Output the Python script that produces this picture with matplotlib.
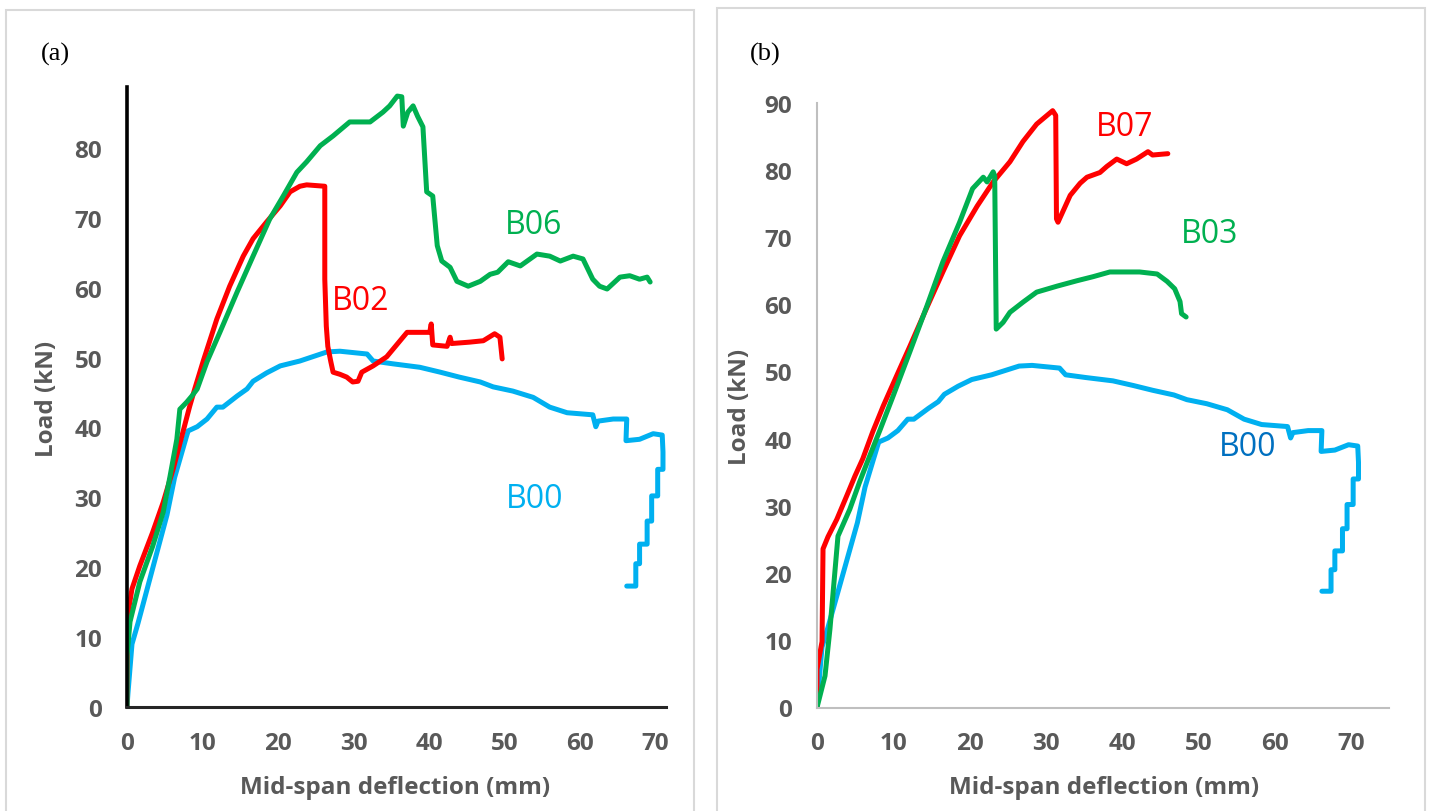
import matplotlib
matplotlib.use("Agg")
import matplotlib.pyplot as plt
from matplotlib.patches import Rectangle

# B00 (reference beam, shown in both panels)
b00_defl = [0, 0.13, 0.66, 1.46, 3.44, 5.3, 6.3, 7.9, 8.1, 9.3, 10.6, 11.9, 12.7, 14.6, 15.9, 16.7,
            18.5, 20.3, 22.9, 26.5, 28.2, 31.8, 32.6, 35.2, 38.8, 41.5, 44.0, 46.8, 48.5, 51.1, 53.8,
            56.0, 58.3, 61.7, 62.1, 62.4, 64.4, 66.2, 66.1, 67.9, 69.7, 70.9, 71.0, 71.0, 70.3, 70.3,
            69.5, 69.5, 68.9, 68.9, 67.9, 67.9, 67.4, 67.4, 66.2]
b00_load = [0, 2.0, 9.0, 12.0, 20.0, 27.5, 32.8, 38.8, 39.5, 40.1, 41.2, 42.9, 42.9, 44.5, 45.5, 46.6,
            47.8, 48.8, 49.5, 50.8, 50.9, 50.5, 49.5, 49.1, 48.6, 47.9, 47.2, 46.5, 45.8, 45.2, 44.3,
            42.9, 42.1, 41.8, 40.1, 40.9, 41.2, 41.2, 38.1, 38.3, 39.1, 38.9, 36.5, 34.0, 34.0, 30.2,
            30.2, 26.6, 26.6, 23.3, 23.3, 20.5, 20.5, 17.3, 17.3]

# panel (a)
b02_defl = [0, 0.05, 0.3, 0.66, 1.7, 3.4, 4.8, 6.1, 7.4, 8.3, 9.0, 10.1, 11.9, 13.6, 15.4, 16.7,
            18.5, 20.3, 21.6, 22.9, 23.8, 26.2, 26.2, 26.4, 26.6, 27.0, 27.3, 28.2, 29.1, 29.9, 30.6,
            31.1, 32.6, 34.4, 37.1, 40.1, 40.3, 40.5, 42.4, 42.8, 43.0, 45.4, 47.2, 48.7, 49.4, 49.7]
b02_load = [0, 11.2, 14.5, 16.9, 20.2, 25.0, 29.3, 34.0, 39.3, 43.0, 45.6, 49.5, 55.5, 60.2, 64.5, 67.0,
            69.4, 71.7, 73.7, 74.5, 74.7, 74.5, 61.2, 54.5, 51.6, 49.4, 47.9, 47.6, 47.2, 46.5, 46.6,
            47.9, 48.8, 50.1, 53.6, 53.6, 54.8, 51.8, 51.6, 52.9, 52.0, 52.2, 52.4, 53.4, 52.9, 49.8]

b06_defl = [0, 0, 0.4, 1.7, 3.4, 4.8, 5.7, 6.6, 7.0, 7.9, 8.6, 9.3, 10.6, 12.3, 14.6, 16.7, 18.9,
            20.7, 22.5, 23.8, 25.6, 27.3, 29.5, 32.2, 33.9, 34.8, 35.8, 36.4, 36.6, 37.2, 37.9, 38.5,
            39.2, 39.7, 40.5, 41.1, 41.7, 42.8, 43.7, 45.2, 46.8, 48.1, 49.1, 50.5, 52.1, 54.3, 56.0,
            57.4, 59.1, 60.4, 61.7, 62.6, 63.6, 65.3, 66.6, 67.9, 68.9, 69.3]
b06_load = [0, 7.3, 12.2, 17.9, 23.0, 27.9, 33.0, 38.3, 42.6, 43.6, 44.5, 45.5, 49.4, 53.6, 59.4, 64.5, 69.8,
            73.1, 76.5, 78.0, 80.3, 81.7, 83.7, 83.7, 85.1, 86.0, 87.4, 87.3, 83.1, 85.1, 86.0, 84.5,
            83.0, 73.7, 73.1, 66.0, 63.8, 62.9, 60.9, 60.2, 60.9, 61.9, 62.2, 63.7, 63.1, 64.8, 64.5,
            63.8, 64.5, 64.1, 61.2, 60.2, 59.8, 61.5, 61.7, 61.2, 61.5, 60.8]

# panel (b)
b07_defl = [0, 0, 0.66, 0.79, 1.44, 2.6, 3.9, 5.0, 6.0, 7.3, 8.7, 10.5, 12.2, 14.4, 16.5, 18.7, 21.0,
            23.1, 25.3, 27.0, 28.8, 30.9, 31.3, 31.4, 31.6, 33.2, 34.5, 35.4, 37.1, 38.0, 39.3, 40.6,
            41.9, 43.4, 44.0, 46.0]
b07_load = [0, 5.7, 9.8, 23.6, 25.4, 28.0, 31.5, 34.5, 37.0, 41.0, 44.9, 49.5, 53.8, 59.5, 64.8, 70.2, 74.6,
            78.2, 81.2, 84.2, 86.8, 88.8, 88.1, 72.7, 72.2, 76.2, 78.0, 78.9, 79.6, 80.5, 81.6, 80.9,
            81.6, 82.7, 82.2, 82.4]

b03_defl = [0, 1.05, 1.7, 2.75, 4.3, 5.6, 6.9, 8.3, 10.0, 12.2, 14.4, 16.5, 18.7, 20.4, 21.8, 22.3,
            23.1, 23.3, 23.5, 24.4, 25.3, 27.0, 28.8, 31.5, 34.1, 36.2, 38.4, 40.6, 42.3, 44.6, 45.9,
            46.9, 47.6, 47.8, 48.4]
b03_load = [0, 4.7, 11.7, 25.5, 29.5, 33.6, 37.4, 41.4, 46.4, 53.0, 59.7, 66.3, 72.2, 77.2, 78.9, 78.2,
            79.7, 79.1, 56.3, 57.3, 58.8, 60.3, 61.8, 62.7, 63.5, 64.1, 64.8, 64.8, 64.8, 64.5, 63.4,
            62.3, 60.4, 58.6, 58.1]

RED = "#FF0000"
GREEN = "#00B050"
LBLUE = "#00B0F0"
DBLUE = "#0070C0"
GREY = "#595959"

W, H = 1432, 812
fig = plt.figure(figsize=(W / 100, H / 100), dpi=100)
fig.patch.set_facecolor("white")

# light grey frames around both panels
for x0, x1, y0 in [(5.5, 694, 11.4), (716.5, 1425, 9)]:
    fig.patches.append(Rectangle((x0 / W, -0.05), (x1 - x0) / W, 1.05 - y0 / H,
                                 transform=fig.transFigure, fill=False,
                                 edgecolor="#D9D9D9", linewidth=1.5))


def px_axes(left, right, top, bottom):
    return fig.add_axes([left / W, 1 - bottom / H, (right - left) / W, (bottom - top) / H])


lw = 3.6
style = dict(lw=lw, solid_joinstyle="round", solid_capstyle="round")
name_font = dict(fontsize=23, family="Open Sans", ha="center", va="center")

# ---- panel (a)
ax1 = px_axes(127, 666, 88, 708)
ax1.plot(b00_defl, b00_load, color=LBLUE, **style)
ax1.plot(b02_defl, b02_load, color=RED, **style)
ax1.plot(b06_defl, b06_load, color=GREEN, **style)
ax1.set_xlim(0, 71.4)
ax1.set_ylim(0, 88.7)
ax1.set_xticks(range(0, 71, 10))
ax1.set_yticks(range(0, 81, 10))
for s in ["top", "right"]:
    ax1.spines[s].set_visible(False)
ax1.spines["left"].set_color("black")
ax1.spines["left"].set_linewidth(2.6)
ax1.spines["bottom"].set_color("#262626")
ax1.spines["bottom"].set_linewidth(2.2)
ax1.text(31.0, 58.2, "B02", color=RED, **name_font)
ax1.text(53.8, 69.1, "B06", color=GREEN, **name_font)
ax1.text(54.0, 29.8, "B00", color=LBLUE, **name_font)

# ---- panel (b)
ax2 = px_axes(817, 1389, 103.6, 708.5)
ax2.plot(b00_defl, b00_load, color=LBLUE, **style)
ax2.plot(b07_defl, b07_load, color=RED, **style)
ax2.plot(b03_defl, b03_load, color=GREEN, **style)
ax2.set_xlim(0, 75)
ax2.set_ylim(0, 90)
ax2.set_xticks(range(0, 71, 10))
ax2.set_yticks(range(0, 91, 10))
for s in ["top", "right"]:
    ax2.spines[s].set_visible(False)
for s in ["left", "bottom"]:
    ax2.spines[s].set_color("#BFBFBF")
    ax2.spines[s].set_linewidth(1.5)
ax2.text(40.4, 86.4, "B07", color=RED, **name_font)
ax2.text(51.5, 70.5, "B03", color=GREEN, **name_font)
ax2.text(56.5, 38.8, "B00", color=DBLUE, **name_font)

for ax in (ax1, ax2):
    ax.set_facecolor("none")
    ax.tick_params(length=0, pad=18)
    ax.tick_params(axis="x", pad=17)
    for lab in ax.get_xticklabels() + ax.get_yticklabels():
        lab.set_fontproperties({"family": "Open Sans", "weight": "bold", "size": 17.5})
        lab.set_color(GREY)

label_font = dict(family="Open Sans", weight="bold", size=17.5, color=GREY)
fig.text(395 / W, 1 - 788 / H, "Mid-span deflection (mm)", ha="center", va="center", **label_font)
fig.text(1104 / W, 1 - 788 / H, "Mid-span deflection (mm)", ha="center", va="center", **label_font)
fig.text(47 / W, 1 - 399 / H, "Load (kN)", ha="center", va="center", rotation=90, **label_font)
fig.text(740 / W, 1 - 407 / H, "Load (kN)", ha="center", va="center", rotation=90, **label_font)

fig.text(55 / W, 1 - 54 / H, "(a)", ha="center", va="center", family="Liberation Serif", size=19)
fig.text(765 / W, 1 - 54 / H, "(b)", ha="center", va="center", family="Liberation Serif", size=19)

fig.savefig("out.png", dpi=100, facecolor="white")
